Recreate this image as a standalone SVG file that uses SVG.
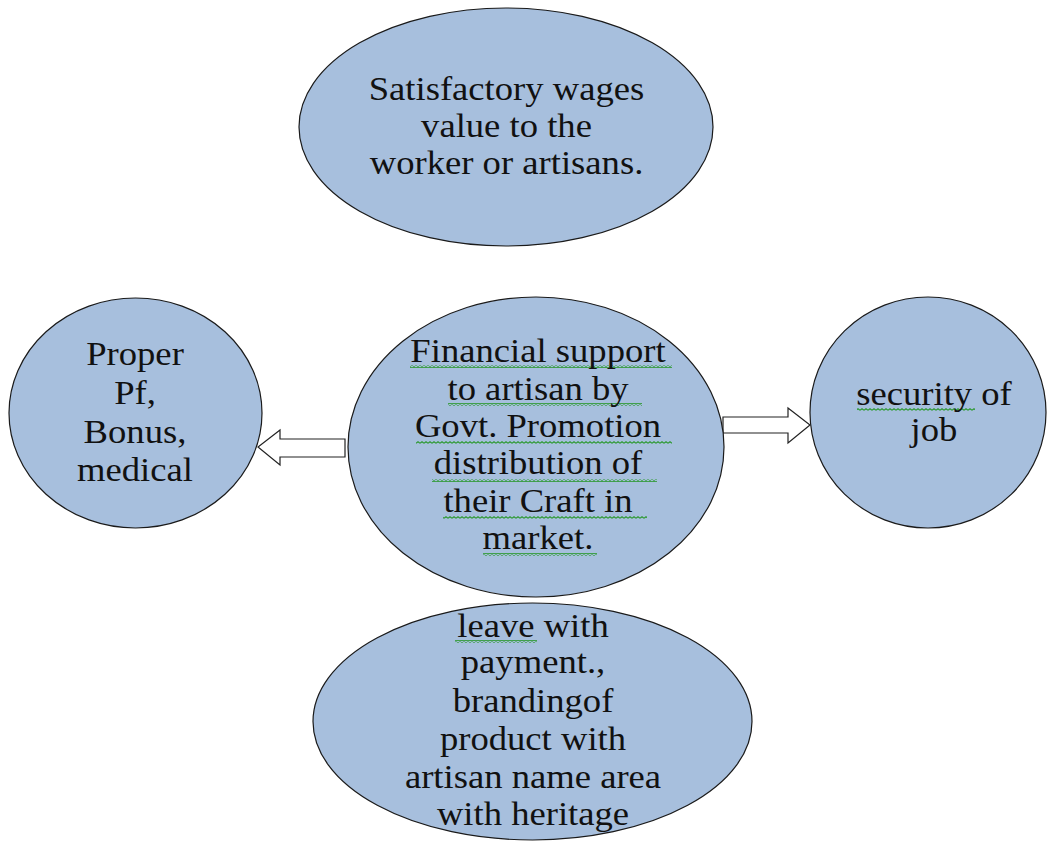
<svg xmlns="http://www.w3.org/2000/svg" width="1047" height="842" viewBox="0 0 1047 842">
<style>
.node{fill:#A7BFDD;stroke:#1a1a1a;stroke-width:1.2}
.lbl{font-family:"Liberation Serif","Times New Roman",serif;font-size:33px;fill:#111;text-anchor:middle}
.arrow{fill:#fff;stroke:#222;stroke-width:1.2}
.wavy{fill:url(#wv)}
</style>
<defs>
<pattern id="wv" width="4" height="3" patternUnits="userSpaceOnUse">
<path d="M0,2.3 L2,0.7 L4,2.3" fill="none" stroke="#2f9a35" stroke-width="1.1"/>
</pattern>
</defs>
<rect width="1047" height="842" fill="#fff"/>
<g id="connectors">
<polygon class="arrow" points="345,439 280,439 280,430 258,447 280,465 280,457 345,457"/>
<polygon class="arrow" points="723,417 788,417 788,408 810,425 788,443 788,433 723,433"/>
</g>
<g id="node-top">
<ellipse class="node" cx="506" cy="127" rx="207" ry="119"/>
<g transform="translate(506.5 0) scale(1.11 1)">
<text class="lbl" x="0" y="100">Satisfactory wages</text>
<text class="lbl" x="0" y="137">value to the</text>
<text class="lbl" x="0" y="174">worker or artisans.</text>
</g>
</g>
<g id="node-left">
<ellipse class="node" cx="135.5" cy="413" rx="126.5" ry="115"/>
<g transform="translate(135 0) scale(1.11 1)">
<text class="lbl" x="0" y="365">Proper</text>
<text class="lbl" x="0" y="404">Pf,</text>
<text class="lbl" x="0" y="443">Bonus,</text>
<text class="lbl" x="0" y="481">medical</text>
</g>
</g>
<g id="node-center">
<ellipse class="node" cx="536" cy="447" rx="188" ry="150"/>
<rect class="wavy" x="410" y="365" width="262" height="3"/>
<rect class="wavy" x="448" y="403" width="194" height="3"/>
<rect class="wavy" x="416" y="441" width="256" height="3"/>
<rect class="wavy" x="432" y="479" width="225" height="3"/>
<rect class="wavy" x="443" y="516" width="204" height="3"/>
<rect class="wavy" x="483" y="553" width="114" height="3"/>
<g transform="translate(538 0) scale(1.11 1)">
<text class="lbl" x="0" y="362">Financial support</text>
<text class="lbl" x="0" y="400">to artisan by</text>
<text class="lbl" x="0" y="437">Govt. Promotion</text>
<text class="lbl" x="0" y="474">distribution of</text>
<text class="lbl" x="0" y="512">their Craft in</text>
<text class="lbl" x="0" y="549">market.</text>
</g>
</g>
<g id="node-right">
<ellipse class="node" cx="928" cy="412.5" rx="118" ry="115.5"/>
<rect class="wavy" x="857" y="408" width="118" height="3"/>
<g transform="translate(934 0) scale(1.11 1)">
<text class="lbl" x="0" y="405">security of</text>
<text class="lbl" x="0" y="441">job</text>
</g>
</g>
<g id="node-bottom">
<ellipse class="node" cx="532.5" cy="721.5" rx="219.5" ry="118.5"/>
<rect class="wavy" x="455" y="640" width="82" height="3"/>
<g transform="translate(533 0) scale(1.11 1)">
<text class="lbl" x="0" y="637">leave with</text>
<text class="lbl" x="0" y="673">payment.,</text>
<text class="lbl" x="0" y="712">brandingof</text>
<text class="lbl" x="0" y="750">product with</text>
<text class="lbl" x="0" y="788">artisan name area</text>
<text class="lbl" x="0" y="825">with heritage</text>
</g>
</g>
</svg>
